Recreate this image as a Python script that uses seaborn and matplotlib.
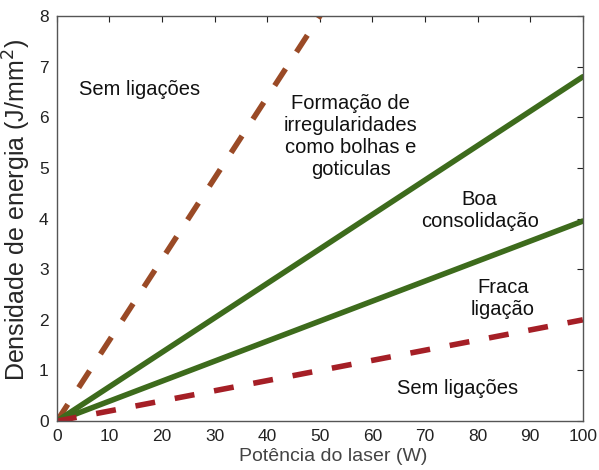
import matplotlib
matplotlib.use("Agg")
import matplotlib.pyplot as plt
import seaborn as sns
import pandas as pd

# Laser power (W) and energy-density limits (J/mm^2)
power = [0, 50, 100]
upper_no_bond = [0.0, 8.0, 16.0]       # above: no bonding
upper_defects = [0.0, 3.4, 6.8]        # balling / droplets limit
lower_good = [0.0, 1.975, 3.95]        # good consolidation lower limit
lower_no_bond = [0.0, 1.0, 2.0]        # below: no bonding

sns.set_theme(style="white")
plt.rcParams["font.family"] = ["Liberation Sans", "DejaVu Sans"]

fig = plt.figure(figsize=(5.99, 4.70), dpi=100)
ax = fig.add_axes([0.095, 0.104, 0.878, 0.862])

df = pd.DataFrame({
    "P": power * 4,
    "E": upper_no_bond + upper_defects + lower_good + lower_no_bond,
    "curve": ["a"] * 3 + ["b"] * 3 + ["c"] * 3 + ["d"] * 3,
})
palette = {"a": "#9a4a26", "b": "#3d6b1c", "c": "#3d6b1c", "d": "#a51f26"}
sns.lineplot(data=df, x="P", y="E", hue="curve", palette=palette,
             linewidth=4.0, legend=False, ax=ax)
dash = (3.6, 3.6)
ax.lines[0].set_dashes(dash)
ax.lines[3].set_dashes(dash)

ax.set_xlim(0, 100)
ax.set_ylim(0, 8)
ax.set_xticks(range(0, 101, 10))
ax.set_yticks(range(0, 9))
ax.tick_params(direction="in", length=4, width=0.8, labelsize=12.5,
               top=True, right=True, pad=6, colors="#222222")
for s in ax.spines.values():
    s.set_color("#555555")
    s.set_linewidth(1.0)

ax.set_xlabel("Potência do laser (W)", fontsize=14, color="#444444")
ax.xaxis.set_label_coords(0.525, -0.066)
ax.set_ylabel("Densidade de energia (J/mm$^2$)", fontsize=18)
ax.yaxis.set_label_coords(-0.045, 0.52)

txt = dict(fontsize=14.5, ha="center", va="center", linespacing=1.2, color="#111111")
ax.text(15.8, 6.54, "Sem ligações", **txt)
ax.text(55.9, 5.63, "Formação de\nirregularidades\ncomo bolhas e\ngoticulas", **txt)
ax.text(80.4, 4.15, "Boa\nconsolidação", **txt)
ax.text(84.8, 2.43, "Fraca\nligação", **txt)
ax.text(76.2, 0.65, "Sem ligações", **txt)

fig.savefig("out.png", dpi=100)
